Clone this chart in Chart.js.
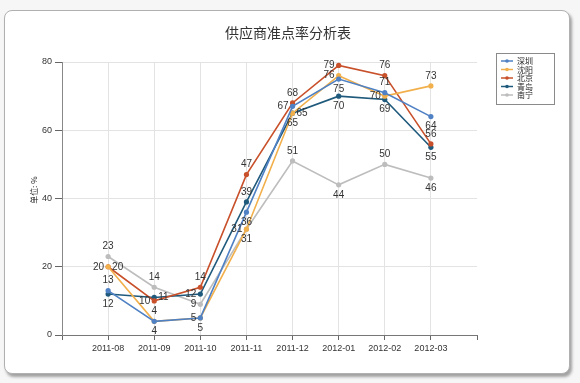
<!DOCTYPE html>
<html><head><meta charset="utf-8">
<script src="https://cdn.jsdelivr.net/npm/chart.js@4.4.1/dist/chart.umd.min.js"></script>
<style>
html,body{margin:0;padding:0;background:#f6f6f6;width:580px;height:383px;overflow:hidden}
#card{position:absolute;left:4px;top:10px;width:564px;height:362px;background:#fff;border:1px solid #b0b0b0;border-radius:8px;box-shadow:2px 3px 3px rgba(0,0,0,0.35)}
#wrap{position:absolute;left:0;top:0;width:580px;height:383px}
</style></head><body>
<div id="card"></div>
<div id="wrap"><canvas id="c" width="580" height="383"></canvas></div>
<script>
const categories = ['2011-08','2011-09','2011-10','2011-11','2011-12','2012-01','2012-02','2012-03'];
const seriesNames = ['深圳','沈阳','北京','青岛','南宁'];
const shenzhen = [13, 4, 5, 36, 67, 75, 71, 64];
const shenyang = [20, 4, 5, 31, 65, 76, 70, 73];
const beijing  = [20, 10, 14, 47, 68, 79, 76, 56];
const qingdao  = [12, 11, 12, 39, 65, 70, 69, 55];
const nanning  = [23, 14, 9, 31, 51, 44, 50, 46];
const yTicks = [0, 20, 40, 60, 80];
const chartTitle = '供应商准点率分析表';
const yTitle = '单位: %';

const seriesValues = [shenzhen, shenyang, beijing, qingdao, nanning];
const seriesColors = ['#4f81c4', '#f2b04c', '#c8502a', '#1f5a7c', '#bdbdbd'];
// label placement (style): t=top, b=bottom, l=left, r=right
const labelPlace = [
  ['t','b','b','b','l','b','t','b'],
  ['r','t','l','l','b','l','l','t'],
  ['l','l','t','t','t','l','t','t'],
  ['b','r','l','t','r','b','b','b'],
  ['t','t','l','b','t','b','t','b']
];

const labels = [''].concat(categories, ['']);
const FONT = '"Liberation Sans Narrow", "Liberation Sans", Arial, sans-serif';
const CJK = '"Noto Sans CJK SC", sans-serif';

const datasets = seriesNames.map((name, i) => ({
  label: name,
  data: [null].concat(seriesValues[i], [null]),
  borderColor: seriesColors[i],
  backgroundColor: seriesColors[i],
  borderWidth: 1.6,
  pointRadius: 2.6,
  pointHoverRadius: 2.6,
  pointBorderWidth: 0,
  tension: 0,
  spanGaps: false
}));

const dataLabels = {
  id: 'dataLabels',
  afterDatasetsDraw(chart) {
    const ctx = chart.ctx;
    ctx.save();
    ctx.font = '10px ' + FONT;
    ctx.fillStyle = '#333';
    chart.data.datasets.forEach((ds, di) => {
      const meta = chart.getDatasetMeta(di);
      meta.data.forEach((pt, idx) => {
        const v = ds.data[idx];
        if (v === null || v === undefined) return;
        const p = labelPlace[di][idx - 1];
        let x = pt.x, y = pt.y;
        ctx.textBaseline = 'middle';
        if (p === 't') { ctx.textAlign = 'center'; y -= 10; }
        else if (p === 'b') { ctx.textAlign = 'center'; y += 10; }
        else if (p === 'l') { ctx.textAlign = 'right'; x -= 4; }
        else { ctx.textAlign = 'left'; x += 4; }
        ctx.fillText(String(v), x, y);
      });
    });
    ctx.restore();
  }
};

const decorations = {
  id: 'decorations',
  afterDraw(chart) {
    const ctx = chart.ctx;
    ctx.save();
    // title
    ctx.fillStyle = '#333';
    ctx.font = '14px ' + CJK;
    ctx.textAlign = 'center';
    ctx.textBaseline = 'middle';
    ctx.fillText(chartTitle, 288, 33);
    // y axis title
    ctx.save();
    ctx.translate(34, 190);
    ctx.rotate(-Math.PI / 2);
    ctx.font = '8px ' + CJK;
    ctx.fillStyle = '#222';
    ctx.fillText(yTitle, 0, 0);
    ctx.restore();
    // legend
    ctx.strokeStyle = '#8a8a8a';
    ctx.lineWidth = 1;
    ctx.strokeRect(496.5, 53.5, 58, 51);
    ctx.font = '8px ' + CJK;
    ctx.textBaseline = 'middle';
    ctx.textAlign = 'left';
    chart.data.datasets.forEach((ds, i) => {
      const y = 61 + i * 8.5;
      ctx.strokeStyle = ds.borderColor;
      ctx.lineWidth = 1.5;
      ctx.beginPath(); ctx.moveTo(501, y); ctx.lineTo(513, y); ctx.stroke();
      ctx.fillStyle = ds.borderColor;
      ctx.beginPath(); ctx.arc(507, y, 1.8, 0, Math.PI * 2); ctx.fill();
      ctx.fillStyle = '#222';
      ctx.fillText(ds.label, 517, y);
    });
    ctx.restore();
  }
};

new Chart(document.getElementById('c'), {
  type: 'line',
  data: { labels: labels, datasets: datasets },
  options: {
    responsive: false,
    animation: false,
    layout: { padding: { left: 0, right: 103, top: 62, bottom: 0 } },
    plugins: {
      legend: { display: false },
      tooltip: { enabled: false },
      title: { display: false }
    },
    scales: {
      x: {
        type: 'category',
        offset: false,
        grid: {
          color: (c) => (c.index === labels.length - 1 ? 'rgba(0,0,0,0)' : '#e3e3e3'),
          tickColor: '#666',
          tickLength: 5,
          lineWidth: 1
        },
        border: { color: '#777', width: 1 },
        ticks: { color: '#333', font: { family: FONT, size: 9 }, maxRotation: 0, autoSkip: false, padding: 3 },
        afterFit(s) { s.height = 48; }
      },
      y: {
        min: yTicks[0],
        max: yTicks[yTicks.length - 1],
        afterBuildTicks(s) { s.ticks = yTicks.map(v => ({ value: v })); },
        grid: { color: '#e3e3e3', tickColor: '#666', tickLength: 7 },
        border: { color: '#888', width: 1 },
        ticks: { color: '#333', font: { family: FONT, size: 9 }, padding: 3 },
        afterFit(s) { s.width = 62; }
      }
    }
  },
  plugins: [dataLabels, decorations]
});
</script>
</body></html>
